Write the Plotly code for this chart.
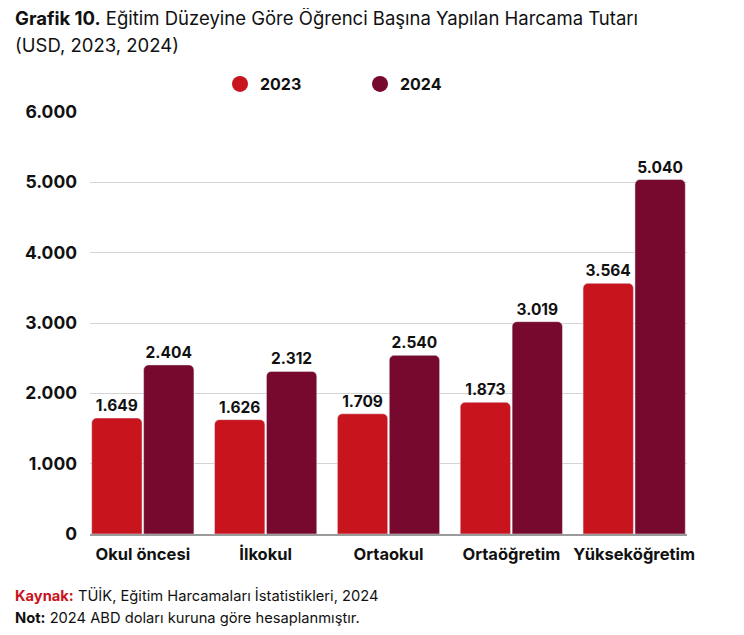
import plotly.graph_objects as go

# Eğitim düzeyleri ve öğrenci başına harcama (USD)
categories = ["Okul öncesi", "İlkokul", "Ortaokul", "Ortaöğretim", "Yükseköğretim"]
values_2023 = [1649, 1626, 1709, 1873, 3564]
values_2024 = [2404, 2312, 2540, 3019, 5040]
years = ["2023", "2024"]

RED = "#C8141C"
MAROON = "#76092D"
FONT = "Inter"

# page body adds an 8px margin, so the figure is a bit smaller than the window
W, H = 736, 627
L, R, T, B = 82, 57, 104, 101
pw, ph = W - L - R, H - T - B

fig = go.Figure()

for year, vals, col in zip(years, [values_2023, values_2024], [RED, MAROON]):
    fig.add_trace(go.Bar(
        x=categories, y=vals, name=year, marker_color=col,
        marker_cornerradius=5, showlegend=False,
        texttemplate="%{y:,}", textposition="outside",
        textfont=dict(family=FONT, size=15.5, color="#111111", weight="bold"),
        cliponaxis=False,
    ))
    # round legend markers
    fig.add_trace(go.Scatter(
        x=[None], y=[None], mode="markers", name=year,
        marker=dict(symbol="circle", size=16, color=col),
    ))

fig.update_layout(
    width=W, height=H,
    margin=dict(l=L, r=R, t=T, b=B, autoexpand=False),
    paper_bgcolor="white", plot_bgcolor="white",
    separators=",.",
    barmode="group", bargap=0.155, bargroupgap=0.03,
    font=dict(family=FONT, color="#111111"),
    showlegend=True,
    legend=dict(
        orientation="h", xref="paper", x=(212 - L) / pw, xanchor="left",
        yref="container", y=(H - 76) / H, yanchor="middle",
        font=dict(family=FONT, size=16, color="#111111", weight="bold"),
        entrywidth=95, entrywidthmode="pixels", traceorder="normal",
        itemwidth=30,
    ),
    xaxis=dict(
        range=[-0.43, 4.43], showgrid=False, showline=True,
        linecolor="#9a9a9a", linewidth=1.5,
        tickfont=dict(family=FONT, size=16.5, color="#111111", weight="bold"),
        ticks="", ticklabelstandoff=4,
    ),
    yaxis=dict(
        range=[0, 6000], dtick=1000, tickformat=",",
        showgrid=True, gridcolor="#d4d4d4", gridwidth=1,
        zeroline=False,
        tickfont=dict(family=FONT, size=17.5, color="#111111", weight="bold"),
        ticklabelstandoff=12,
    ),
)

# title and footer notes, positioned in pixels
notes = [
    (10, 18.5, "<b>Grafik 10.</b> Eğitim Düzeyine Göre Öğrenci Başına Yapılan Harcama Tutarı"),
    (37, 18.5, "(USD, 2023, 2024)"),
    (587, 14.7, f"<b><span style='color:{RED}'>Kaynak:</span></b> TÜİK, Eğitim Harcamaları İstatistikleri, 2024"),
    (610, 14.7, "<b>Not:</b> 2024 ABD doları kuruna göre hesaplanmıştır."),
]
for py, size, text in notes:
    fig.add_annotation(
        xref="paper", yref="paper", x=(5 - L) / pw, y=(H - B - py) / ph,
        showarrow=False, xanchor="left", yanchor="middle", align="left",
        text=text, font=dict(family=FONT, size=size, color="#111111"),
    )

fig.write_html("out.html")
